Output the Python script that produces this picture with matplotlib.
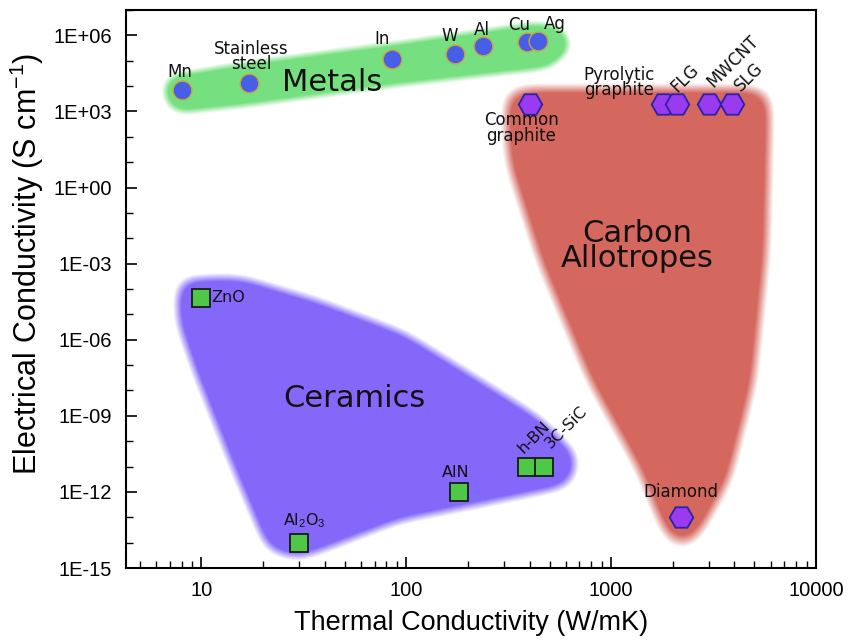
import matplotlib; matplotlib.use("Agg")
import matplotlib.pyplot as plt
import numpy as np
from matplotlib.path import Path
from matplotlib.ticker import FixedLocator, LogLocator, FuncFormatter, NullFormatter

plt.rcParams["font.family"] = ["DejaVu Sans"]
plt.rcParams["mathtext.fontset"] = "custom"
plt.rcParams["mathtext.rm"] = "Liberation Sans"
plt.rcParams["mathtext.it"] = "Liberation Sans:italic"

# --- data (thermal conductivity W/mK, electrical conductivity S/cm) ---
metal_names = ["Mn", "Stainless\nsteel", "In", "W", "Al", "Cu", "Ag"]
metal_k = [8, 17, 85, 173, 237, 390, 440]
metal_s = [7e3, 1.3e4, 1.2e5, 1.9e5, 3.7e5, 5.4e5, 6.0e5]

carbon_names = ["Common\ngraphite", "Pyrolytic\ngraphite", "FLG", "MWCNT", "SLG", "Diamond"]
carbon_k = [400, 1800, 2100, 3000, 3900, 2200]
carbon_s = [1.9e3, 1.9e3, 1.9e3, 1.9e3, 1.9e3, 1e-13]

ceramic_names = ["ZnO", "Al$_2$O$_3$", "AlN", "h-BN", "3C-SiC"]
ceramic_k = [10, 30, 180, 390, 470]
ceramic_s = [4.6e-5, 1e-14, 1e-12, 1e-11, 1e-11]

# class regions (outline in data units)
metal_region_k = [6.4, 6.8, 17, 92, 445, 610, 638, 500, 92, 17, 7.4]
metal_region_s = [4.3e3, 2.6e4, 8.6e4, 5.3e5, 3.3e6, 1.6e6, 2.6e5, 5e4, 1.07e4, 1.7e3, 8.3e2]
carbon_region_k = [301, 6030, 5770, 4990, 3770, 2690, 2220, 1830, 1370, 780, 445, 311]
carbon_region_s = [8.1e3, 8.1e3, 3.2e-3, 2.4e-8, 2.7e-12, 2e-14, 4e-15, 2e-14, 6.8e-12, 2.4e-8, 1.3e-3, 11.7]
ceramic_region_k = [7.6, 15.3, 37.7, 98, 203, 445, 698, 638, 284, 92, 30, 21, 13.7, 9.2, 7.6]
ceramic_region_s = [2.6e-4, 3.1e-4, 3.5e-5, 1.9e-6, 5e-8, 9.1e-10, 2.6e-11, 1.7e-12, 4.4e-13,
                    7e-14, 2.2e-15, 4.7e-15, 1.7e-11, 5.9e-8, 5.6e-6]

# label offsets (points) and rotations
metal_off = [(-1, 13), (2, 19), (-7, 14), (-4, 13), (-1, 12), (-6, 12), (12, 12)]
carbon_off = [(-6, -17), (-32, 16), (6, 19), (17, 31), (12, 20), (0, 18)]
carbon_rot = [0, 0, 45, 45, 45, 0]
ceramic_off = [(7, 0), (4, 16), (-2, 14), (5, 21), (16, 28)]
ceramic_rot = [0, 0, 0, 45, 45]
ceramic_ha = ["left", "center", "center", "center", "center"]

fig = plt.figure(figsize=(8.49, 6.41), dpi=100)
ax = fig.add_axes([126/849, 1-568/641, 690/849, 558/641])
ax.set_xscale("log"); ax.set_yscale("log")
ax.set_xlim(4.28, 1e4); ax.set_ylim(1e-15, 1e7)
ax.set_autoscale_on(False)

def soft_region(xs, ys, sigma, color):
    bb = ax.get_window_extent()
    W, H = int(round(bb.width)), int(round(bb.height))
    pts = ax.transData.transform(np.column_stack([xs, ys])) - [bb.x0, bb.y0]
    gx, gy = np.meshgrid(np.arange(W) + 0.5, np.arange(H) + 0.5)
    m = Path(pts).contains_points(np.column_stack([gx.ravel(), gy.ravel()])).reshape(H, W).astype(float)
    r = int(3 * sigma); t = np.arange(-r, r + 1)
    k = np.exp(-t**2 / (2 * sigma**2)); k /= k.sum()
    m = np.pad(m, r)
    m = np.apply_along_axis(lambda v: np.convolve(v, k, mode="same"), 1, m)
    m = np.apply_along_axis(lambda v: np.convolve(v, k, mode="same"), 0, m)[r:-r, r:-r]
    a = np.clip((m - 0.5) / 0.28 + 0.5, 0, 1)
    rgba = np.zeros((H, W, 4))
    rgba[..., :3] = matplotlib.colors.to_rgb(color)
    rgba[..., 3] = a
    ax.imshow(rgba, extent=[0, 1, 0, 1], transform=ax.transAxes, origin="lower",
              aspect="auto", zorder=0.5, interpolation="bilinear")

soft_region(metal_region_k, metal_region_s, 9, "#76e080")
soft_region(carbon_region_k, carbon_region_s, 14, "#d4685f")
soft_region(ceramic_region_k, ceramic_region_s, 12, "#8468fa")
ax.set_xlim(4.28, 1e4); ax.set_ylim(1e-15, 1e7)

ax.plot(metal_k, metal_s, "o", ms=13.5, mfc="#465fe6", mec="#c9a43c", mew=1.0, zorder=3, ls="none")
ax.plot(carbon_k, carbon_s, "H", ms=17, mfc="#9b3bf0", mec="#2a22a8", mew=1.3, zorder=3, ls="none")
ax.plot(ceramic_k, ceramic_s, "s", ms=13, mfc="#4fc848", mec="#1a1a1a", mew=1.3, zorder=3, ls="none")

for n, x, y, o in zip(metal_names, metal_k, metal_s, metal_off):
    ax.annotate(n, (x, y), xytext=o, textcoords="offset points", ha="center", va="center",
                fontsize=12, linespacing=0.8, color="#111111", zorder=4)
for n, x, y, o, r in zip(carbon_names, carbon_k, carbon_s, carbon_off, carbon_rot):
    ax.annotate(n, (x, y), xytext=o, textcoords="offset points", ha="center", va="center",
                fontsize=12, linespacing=0.8, rotation=r, color="#111111", zorder=4)
for n, x, y, o, r, h in zip(ceramic_names, ceramic_k, ceramic_s, ceramic_off, ceramic_rot, ceramic_ha):
    ax.annotate(n, (x, y), xytext=o, textcoords="offset points", ha=h, va="center",
                fontsize=11.5, rotation=r, color="#111111", zorder=4)

ax.text(43.5, 1.4e4, "Metals", fontsize=22, ha="center", va="center", color="#111111", zorder=4)
ax.text(1340, 5e-3, "Carbon\nAllotropes", fontsize=22, ha="center", va="center",
        linespacing=0.85, color="#111111", zorder=4)
ax.text(55.7, 4.7e-9, "Ceramics", fontsize=22, ha="center", va="center", color="#111111", zorder=4)

# axes styling
ax.yaxis.set_major_locator(FixedLocator([10.0**e for e in range(-15, 7, 3)]))
ax.yaxis.set_minor_locator(LogLocator(base=10, subs=(1.0,), numticks=40))
ax.yaxis.set_major_formatter(FuncFormatter(lambda v, p: f"{v:.0E}"))
ax.yaxis.set_minor_formatter(NullFormatter())
ax.xaxis.set_major_locator(FixedLocator([10, 100, 1000, 10000]))
ax.xaxis.set_minor_locator(LogLocator(base=10, subs=np.arange(2, 10), numticks=20))
ax.xaxis.set_major_formatter(FuncFormatter(lambda v, p: f"{v:.0f}"))
ax.xaxis.set_minor_formatter(NullFormatter())
ax.tick_params(which="both", direction="in", top=False, right=False)
ax.tick_params(which="major", length=8, width=1.2)
ax.tick_params(which="minor", length=5, width=1.0)
ax.tick_params(axis="x", pad=9)
ax.tick_params(axis="y", pad=10)
for lab in ax.get_xticklabels() + ax.get_yticklabels():
    lab.set_fontfamily("Liberation Sans"); lab.set_fontsize(14.5)
for s in ax.spines.values():
    s.set_linewidth(1.5)

ax.set_xlabel("Thermal Conductivity (W/mK)", fontsize=19.5, family="Liberation Sans")
ax.set_ylabel("Electrical Conductivity (S cm$^{-1}$)", fontsize=22, family="Liberation Sans")
ax.xaxis.set_label_coords(0.5, -0.098); ax.xaxis.label.set_va("center")
ax.yaxis.set_label_coords(-0.1435, 0.545); ax.yaxis.label.set_va("center")

fig.savefig("out.png", dpi=100)
